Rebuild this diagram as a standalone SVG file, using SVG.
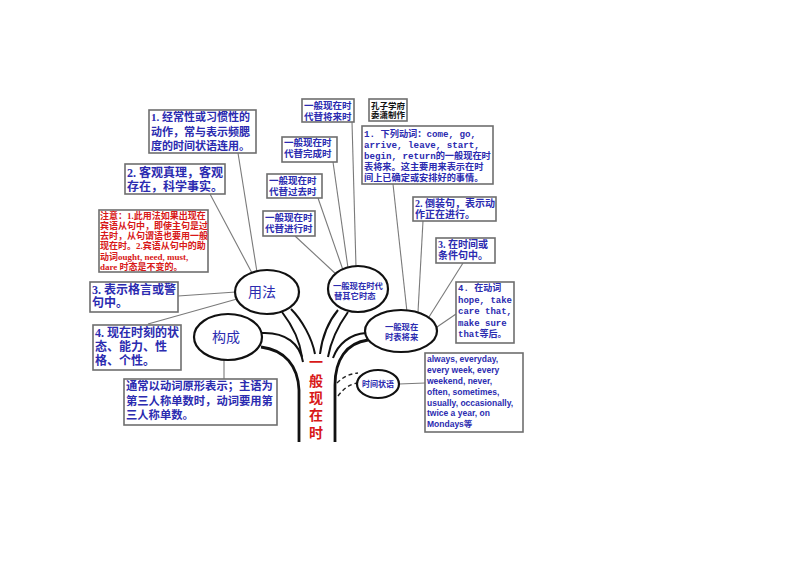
<svg xmlns="http://www.w3.org/2000/svg" width="800" height="566" viewBox="0 0 800 566">
<style>
.box{fill:#fff;stroke:#6e6e6e;stroke-width:1.6}
.ell{fill:#fff;stroke:#111;stroke-width:2.2}
.conn{fill:none;stroke:#7a7a7a;stroke-width:1.1}
.br{fill:none;stroke:#111;stroke-width:2}
.trunk{fill:none;stroke:#111;stroke-width:2.8}
.dash{fill:none;stroke:#222;stroke-width:1.4;stroke-dasharray:4 3}
.t{font-family:"Liberation Serif","Noto Sans CJK SC",serif;font-weight:bold;fill:#2b2bb0}
.m{font-family:"Liberation Mono","Noto Sans CJK SC",monospace;font-weight:bold;fill:#2b2bb0}
.s{font-family:"Liberation Sans","Noto Sans CJK SC",sans-serif;font-weight:bold;fill:#2b2bb0}
.r{font-family:"Liberation Serif","Noto Sans CJK SC",serif;font-weight:bold;fill:#d81818}
.k{font-family:"Liberation Serif","Noto Sans CJK SC",serif;font-weight:bold;fill:#111}
.big{font-family:"Noto Sans CJK SC",sans-serif;fill:#2b2bb0;font-size:14px}
</style>
<rect width="800" height="566" fill="#fff"/>
<g id="connectors">
<line class="conn" x1="238" y1="153" x2="257" y2="272"/>
<line class="conn" x1="210" y1="194" x2="252" y2="273"/>
<line class="conn" x1="178" y1="296" x2="236" y2="292"/>
<line class="conn" x1="148" y1="324" x2="237" y2="299"/>
<line class="conn" x1="224" y1="379" x2="224" y2="360"/>
<line class="conn" x1="352" y1="122" x2="356" y2="267"/>
<line class="conn" x1="333" y1="162" x2="348" y2="268"/>
<line class="conn" x1="318" y1="198" x2="343" y2="270"/>
<line class="conn" x1="295" y1="236" x2="337" y2="275"/>
<line class="conn" x1="393" y1="184" x2="407" y2="312"/>
<line class="conn" x1="423" y1="221" x2="418" y2="312"/>
<line class="conn" x1="463" y1="263" x2="429" y2="317"/>
<line class="conn" x1="456" y1="314" x2="437" y2="327"/>
<line class="conn" x1="399" y1="384" x2="425" y2="383"/>
<path class="trunk" d="M299,442 L299,390 C298,366 285,350 261,347"/>
<path class="br" d="M262,333 C286,332 300,344 303,362"/>
<path class="br" d="M282,312 C292,325 300,342 302,357"/>
<path class="br" d="M291,309 C302,320 312,338 315,354"/>
<path class="br" d="M338,310 C328,322 322,338 320,354"/>
<path class="br" d="M348,312 C338,326 331,340 328,357"/>
<path class="trunk" d="M335,442 L335,385 C335,360 346,343 368,340"/>
<path class="br" d="M366,333 C350,334 338,344 333,358"/>
<path class="dash" d="M337,383 C344,376 350,374 358,373"/>
<path class="dash" d="M338,396 C344,388 350,384 358,383"/>
</g>
<g id="box1"><rect class="box" x="149" y="110" width="107" height="43"/>
<text class="t" font-size="11"><tspan x="151" y="121">1. 经常性或习惯性的</tspan><tspan x="151" y="136">动作，常与表示频腮</tspan><tspan x="151" y="150">度的时间状语连用。</tspan></text></g>
<g id="box2"><rect class="box" x="125" y="164" width="100" height="30"/>
<text class="t" font-size="12"><tspan x="127" y="177">2.  客观真理，客观</tspan><tspan x="127" y="191">存在，科学事实。</tspan></text></g>
<g id="note"><rect class="box" x="99" y="210" width="109" height="62"/>
<text class="r" font-size="9"><tspan x="100" y="219">注意：1.此用法如果出现在</tspan><tspan x="100" y="229">宾语从句中，即使主句是过</tspan><tspan x="100" y="239">去时，从句谓语也要用一般</tspan><tspan x="100" y="249">现在时。2.宾语从句中的助</tspan><tspan x="100" y="259.5">动词ought, need, must,</tspan><tspan x="100" y="269.5">dare 时态是不变的。</tspan></text></g>
<g id="box3"><rect class="box" x="90" y="282" width="88" height="30"/>
<text class="t" font-size="12"><tspan x="92" y="294">3. 表示格言或警</tspan><tspan x="92" y="307">句中。</tspan></text></g>
<g id="box4"><rect class="box" x="93" y="325" width="88" height="45"/>
<text class="t" font-size="12"><tspan x="95" y="337">4. 现在时刻的状</tspan><tspan x="95" y="351">态、能力、性</tspan><tspan x="95" y="365">格、个性。</tspan></text></g>
<g id="box5"><rect class="box" x="124" y="379" width="153" height="46"/>
<text class="t" font-size="11.3"><tspan x="126" y="390">通常以动词原形表示；主语为</tspan><tspan x="126" y="405">第三人称单数时，动词要用第</tspan><tspan x="126" y="419">三人称单数。</tspan></text></g>
<g id="top1"><rect class="box" x="302" y="99" width="52" height="23"/>
<text class="t" font-size="9.5"><tspan x="304" y="109">一般现在时</tspan><tspan x="304" y="120">代替将来时</tspan></text></g>
<g id="credit"><rect class="box" x="369" y="99" width="38" height="22"/>
<text class="k" font-size="8.5"><tspan x="371" y="108.5">孔子学府</tspan><tspan x="371" y="118">委潇制作</tspan></text></g>
<g id="top2"><rect class="box" x="282" y="137" width="55" height="25"/>
<text class="t" font-size="9.5"><tspan x="284" y="146">一般现在时</tspan><tspan x="284" y="157">代替完成时</tspan></text></g>
<g id="top3"><rect class="box" x="267" y="174" width="55" height="24"/>
<text class="t" font-size="9.5"><tspan x="269" y="184">一般现在时</tspan><tspan x="269" y="195">代替过去时</tspan></text></g>
<g id="top4"><rect class="box" x="263" y="211" width="52" height="25"/>
<text class="t" font-size="9.5"><tspan x="265" y="221">一般现在时</tspan><tspan x="265" y="232">代替进行时</tspan></text></g>
<g id="rbox1"><rect class="box" x="362" y="126" width="131" height="58"/>
<text class="m" font-size="9.2"><tspan x="364" y="136.5">1. 下列动词：come, go,</tspan><tspan x="364" y="147.5">arrive, leave, start,</tspan><tspan x="364" y="158.5">begin, return的一般现在时</tspan><tspan x="364" y="169.5">表将来。这主要用来表示在时</tspan><tspan x="364" y="180.5">间上已确定或安排好的事情。</tspan></text></g>
<g id="rbox2"><rect class="box" x="413" y="197" width="83" height="24"/>
<text class="t" font-size="10"><tspan x="415" y="207">2. 倒装句，表示动</tspan><tspan x="415" y="218">作正在进行。</tspan></text></g>
<g id="rbox3"><rect class="box" x="436" y="238" width="59" height="25"/>
<text class="t" font-size="10"><tspan x="438" y="247.5">3. 在时间或</tspan><tspan x="438" y="258.5">条件句中。</tspan></text></g>
<g id="rbox4"><rect class="box" x="456" y="282" width="58" height="61"/>
<text class="m" font-size="9"><tspan x="458" y="291">4. 在动词</tspan><tspan x="458" y="302.5">hope, take</tspan><tspan x="458" y="314">care that,</tspan><tspan x="458" y="325.5">make sure</tspan><tspan x="458" y="337">that等后。</tspan></text></g>
<g id="timebox"><rect class="box" x="425" y="353" width="98" height="79"/>
<text class="s" font-size="8.5"><tspan x="427" y="362">always, everyday,</tspan><tspan x="427" y="373">every week, every</tspan><tspan x="427" y="384">weekend, never,</tspan><tspan x="427" y="395">often, sometimes,</tspan><tspan x="427" y="405.5">usually, occasionally,</tspan><tspan x="427" y="416">twice a year, on</tspan><tspan x="427" y="427">Mondays等</tspan></text></g>
<g id="yongfa"><ellipse class="ell" cx="267" cy="292" rx="32" ry="22"/><text class="big" x="262" y="297" text-anchor="middle">用法</text></g>
<g id="goucheng"><ellipse class="ell" cx="228" cy="337" rx="34" ry="23"/><text class="big" x="226" y="342" text-anchor="middle">构成</text></g>
<g id="daiti"><ellipse class="ell" cx="358" cy="289" rx="30" ry="23"/>
<text class="t" font-size="8.3"><tspan x="333" y="289">一般现在时代</tspan><tspan x="334" y="299">替其它时态</tspan></text></g>
<g id="jianglai"><ellipse class="ell" cx="401" cy="331" rx="36" ry="21"/>
<text class="t" font-size="8.3"><tspan x="385" y="330">一般现在</tspan><tspan x="385" y="340">时表将来</tspan></text></g>
<g id="shijian"><ellipse class="ell" cx="378" cy="384" rx="21" ry="14"/>
<text class="t" font-size="8" x="378" y="387" text-anchor="middle">时间状语</text></g>
<g id="trunk-label"><text class="r" font-size="14" text-anchor="middle"><tspan x="316" y="367">一</tspan><tspan x="316" y="386">般</tspan><tspan x="316" y="403">现</tspan><tspan x="316" y="420">在</tspan><tspan x="316" y="438">时</tspan></text></g>
</svg>
